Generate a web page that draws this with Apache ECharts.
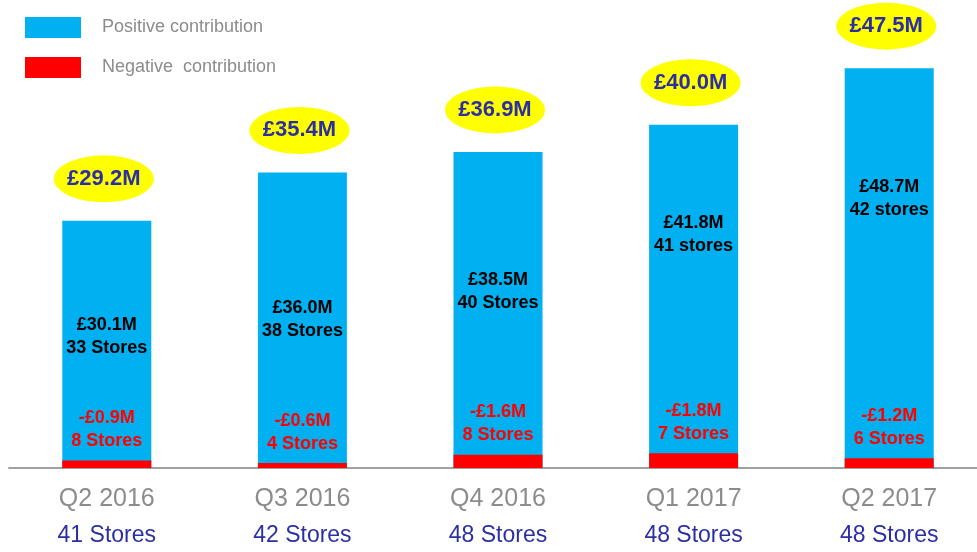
<!DOCTYPE html>
<html>
<head>
<meta charset="utf-8">
<title>Store contribution by quarter</title>
<script src="https://cdn.jsdelivr.net/npm/echarts@6/dist/echarts.min.js"></script>
<style>
    html, body { margin: 0; padding: 0; background: #ffffff; }
    #chart { width: 977px; height: 552px; }
</style>
</head>
<body>
<div id="chart"></div>
<script>
// Chart data
const quarters = ['Q2 2016', 'Q3 2016', 'Q4 2016', 'Q1 2017', 'Q2 2017'];
const totalStores = [41, 42, 48, 48, 48];
const netTotals = [29.2, 35.4, 36.9, 40.0, 47.5];
const positiveValues = [30.1, 36.0, 38.5, 41.8, 48.7];
const positiveStores = ['33 Stores', '38 Stores', '40 Stores', '41 stores', '42 stores'];
const negativeValues = [0.9, 0.6, 1.6, 1.8, 1.2];
const negativeStores = [8, 4, 8, 7, 6];

// Label placement inside the blue bars (px from bar top), layout only
const insideLabelTop = [116, 147, 140, 110, 130];

const FONT = "'Liberation Sans', Arial, sans-serif";
const BLUE = '#00B0F0';
const RED = '#FF0000';
const NAVY = '#2B2FA3';
const GREY = '#8C8C8C';

const chart = echarts.init(document.getElementById('chart'));

const option = {
    backgroundColor: '#ffffff',
    animation: false,
    textStyle: { fontFamily: FONT },
    legend: {
        data: ['Positive contribution', 'Negative  contribution'],
        orient: 'vertical',
        left: 25,
        top: 17,
        padding: 0,
        icon: 'rect',
        itemWidth: 56,
        itemHeight: 21,
        itemGap: 19,
        selectedMode: false,
        textStyle: {
            color: GREY,
            fontSize: 18,
            fontFamily: FONT,
            padding: [6, 0, 0, 16]
        }
    },
    grid: {
        left: 9,
        top: 0,
        width: 978,
        height: 468,
        containLabel: false,
        outerBoundsMode: 'none'
    },
    xAxis: {
        type: 'category',
        data: quarters,
        axisLine: { lineStyle: { color: '#A0A0A0', width: 2 } },
        axisTick: { show: false },
        axisLabel: {
            margin: 14,
            interval: 0,
            formatter: function (value, idx) {
                return '{q|' + value + '}\n{s|' + totalStores[idx] + ' Stores}';
            },
            rich: {
                q: { color: GREY, fontSize: 25, lineHeight: 34, fontFamily: FONT },
                s: { color: NAVY, fontSize: 23, lineHeight: 40, fontFamily: FONT }
            }
        }
    },
    yAxis: {
        type: 'value',
        min: 0,
        max: 57,
        show: false,
        splitLine: { show: false }
    },
    series: [
        {
            name: 'Positive contribution',
            type: 'bar',
            barWidth: 89,
            barGap: '-100%',
            itemStyle: { color: BLUE },
            data: positiveValues,
            label: {
                show: true,
                position: 'inside',
                color: '#000000',
                fontWeight: 'bold',
                fontSize: 18,
                lineHeight: 23,
                fontFamily: FONT,
                formatter: function (p) {
                    return '£' + p.value.toFixed(1) + 'M\n' + positiveStores[p.dataIndex];
                }
            },
            labelLayout: function (params) {
                const r = params.rect;
                return {
                    x: r.x + r.width / 2,
                    y: r.y + insideLabelTop[params.dataIndex],
                    align: 'center',
                    verticalAlign: 'middle'
                };
            }
        },
        {
            name: 'Negative  contribution',
            type: 'bar',
            barWidth: 89,
            barGap: '-100%',
            itemStyle: { color: RED },
            data: negativeValues,
            label: {
                show: true,
                position: 'top',
                distance: 8,
                color: RED,
                fontWeight: 'bold',
                fontSize: 18,
                lineHeight: 23,
                fontFamily: FONT,
                formatter: function (p) {
                    return '-£' + p.value.toFixed(1) + 'M\n' + negativeStores[p.dataIndex] + ' Stores';
                }
            }
        },
        {
            name: 'Net total',
            type: 'scatter',
            symbol: 'circle',
            symbolSize: [100, 47],
            symbolOffset: [-3, -42],
            itemStyle: { color: '#FFFF00', opacity: 1 },
            data: positiveValues,
            z: 5,
            label: {
                show: true,
                position: 'inside',
                color: NAVY,
                fontWeight: 'bold',
                fontSize: 22,
                fontFamily: FONT,
                formatter: function (p) {
                    return '£' + netTotals[p.dataIndex].toFixed(1) + 'M';
                }
            }
        }
    ]
};

chart.setOption(option);
</script>
</body>
</html>
